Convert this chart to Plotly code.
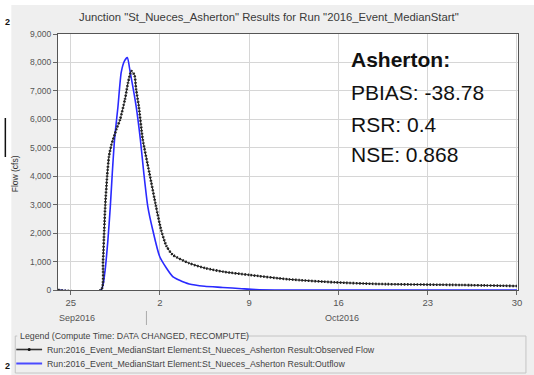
import plotly.graph_objects as go

# ---------------- data ----------------
obs_time = [
    "2016-09-24 00:00", "2016-09-27 09:00", "2016-09-27 12:45", "2016-09-27 15:00",
    "2016-09-27 17:00", "2016-09-27 20:30", "2016-09-28 00:00", "2016-09-28 04:30",
    "2016-09-28 14:00", "2016-09-28 21:00", "2016-09-29 06:00", "2016-09-29 12:00",
    "2016-09-29 18:00", "2016-09-30 00:00", "2016-09-30 03:00", "2016-09-30 08:00",
    "2016-09-30 15:30", "2016-10-01 04:00", "2016-10-01 16:30", "2016-10-02 02:00",
    "2016-10-02 12:00", "2016-10-03 00:00", "2016-10-04 07:00", "2016-10-05 14:00",
    "2016-10-07 00:00", "2016-10-09 00:00", "2016-10-12 02:00", "2016-10-15 17:00",
    "2016-10-19 02:00", "2016-10-25 14:00", "2016-10-30 00:00",
]
obs_flow = [
    0, 0, 1000, 2100,
    3000, 4000, 4700, 5100,
    5650, 6000, 6700, 7300,
    7700, 7550, 7060, 6470,
    5300, 4120, 2940, 2120,
    1550, 1235, 940, 765,
    640, 530, 376, 270,
    212, 176, 140,
]

sim_time = [
    "2016-09-24 00:00", "2016-09-27 09:00", "2016-09-27 16:00", "2016-09-27 22:00",
    "2016-09-28 02:30", "2016-09-28 06:15", "2016-09-28 10:30", "2016-09-28 17:00",
    "2016-09-28 23:00", "2016-09-29 05:00", "2016-09-29 10:30", "2016-09-29 16:00",
    "2016-09-30 03:00", "2016-09-30 11:00", "2016-09-30 17:30", "2016-10-01 01:00",
    "2016-10-01 10:30", "2016-10-02 00:00", "2016-10-03 00:00", "2016-10-03 12:00",
    "2016-10-04 07:00", "2016-10-05 12:00", "2016-10-06 22:00", "2016-10-08 10:00",
    "2016-10-09 12:00", "2016-10-11 00:00", "2016-10-30 00:00",
]
sim_flow = [
    0, 0, 590, 1765,
    2940, 4120, 5300, 6470,
    7650, 8050, 8170, 7650,
    6470, 5300, 4120, 2940,
    2100, 1150, 470, 350,
    210, 130, 90, 45,
    15, 0, 0,
]

series_names = [
    "Run:2016_Event_MedianStart Element:St_Nueces_Asherton Result:Observed Flow",
    "Run:2016_Event_MedianStart Element:St_Nueces_Asherton Result:Outflow",
]
tick_vals = ["2016-09-25", "2016-10-02", "2016-10-09", "2016-10-16", "2016-10-23", "2016-10-30"]
tick_text = ["25", "2", "9", "16", "23", "30"]
month_labels = ["Sep2016", "Oct2016"]
title_text = 'Junction "St_Nueces_Asherton" Results for Run "2016_Event_MedianStart"'
stats_lines = ["<b>Asherton:</b>", "PBIAS: -38.78", "RSR: 0.4", "NSE: 0.868"]
legend_title = "Legend (Compute Time: DATA CHANGED, RECOMPUTE)"

# ---------------- geometry helpers ----------------
W, H = 534, 375
L, R, T, B = 58, 521, 34, 290


def px(x):
    return (x - L) / (R - L)


def py(y):
    return (B - y) / (B - T)


FONT = "Liberation Sans, Arial, sans-serif"

fig = go.Figure()
fig.add_trace(go.Scatter(
    x=sim_time, y=sim_flow, mode="lines", name=series_names[1],
    line=dict(color="#2a2aff", width=1.6, shape="spline", smoothing=0.6),
    showlegend=False,
))
fig.add_trace(go.Scatter(
    x=obs_time, y=obs_flow, mode="lines", name=series_names[0],
    line=dict(color="#111111", width=1.0, shape="spline", smoothing=0.6),
    showlegend=False,
))
fig.add_trace(go.Scatter(
    x=obs_time, y=obs_flow, mode="lines", name=series_names[0],
    line=dict(color="#222222", width=2.6, dash="1.5px,1.7px", shape="spline", smoothing=0.6),
    showlegend=False,
))

shapes = []
annotations = []

# white strips at left/top of the screenshot
shapes.append(dict(type="rect", xref="paper", yref="paper", x0=px(-5), x1=px(11), y0=py(380), y1=py(-5),
                   fillcolor="white", line=dict(width=0), layer="below"))
shapes.append(dict(type="rect", xref="paper", yref="paper", x0=px(-5), x1=px(540), y0=py(5), y1=py(-5),
                   fillcolor="white", line=dict(width=0), layer="below"))
# stray artifact bar
shapes.append(dict(type="line", xref="paper", yref="paper", x0=px(5), x1=px(5), y0=py(118), y1=py(157),
                   line=dict(color="#111111", width=1.5)))
for yy in (22, 366):
    annotations.append(dict(xref="paper", yref="paper", x=px(7), y=py(yy), text="<b>2</b>", showarrow=False,
                            font=dict(family=FONT, size=9, color="#111"), xanchor="center", yanchor="middle"))

# title
annotations.append(dict(xref="paper", yref="paper", x=px(270), y=py(17), text=title_text, showarrow=False,
                        font=dict(family=FONT, size=11.3, color="#3a3a3a"), xanchor="center", yanchor="middle"))
# y-axis title
annotations.append(dict(xref="paper", yref="paper", x=px(15), y=py(174), text="Flow (cfs)", showarrow=False,
                        textangle=-90, font=dict(family=FONT, size=8.5, color="#333"),
                        xanchor="center", yanchor="middle"))
# month labels + separator
annotations.append(dict(xref="paper", yref="paper", x=px(77), y=py(318), text=month_labels[0], showarrow=False,
                        font=dict(family=FONT, size=9, color="#555"), xanchor="center", yanchor="middle"))
annotations.append(dict(xref="paper", yref="paper", x=px(344), y=py(318), text=month_labels[1], showarrow=False,
                        font=dict(family=FONT, size=9, color="#555"), xanchor="center", yanchor="middle"))
shapes.append(dict(type="line", xref="paper", yref="paper", x0=px(147), x1=px(147), y0=py(311), y1=py(325),
                   line=dict(color="#aaaaaa", width=1)))

# stats text
for txt, yy in zip(stats_lines, [59, 92, 124, 154]):
    annotations.append(dict(xref="paper", yref="paper", x=px(351), y=py(yy), text=txt, showarrow=False,
                            font=dict(family=FONT, size=21, color="#111"), xanchor="left", yanchor="middle"))

# legend group box
box_col = "#c4c4c4"
lt_end = 246
shapes += [
    dict(type="line", xref="paper", yref="paper", x0=px(15), x1=px(17), y0=py(336), y1=py(336), line=dict(color=box_col, width=1)),
    dict(type="line", xref="paper", yref="paper", x0=px(lt_end), x1=px(529), y0=py(336), y1=py(336), line=dict(color=box_col, width=1)),
    dict(type="line", xref="paper", yref="paper", x0=px(15), x1=px(15), y0=py(336), y1=py(373), line=dict(color=box_col, width=1)),
    dict(type="line", xref="paper", yref="paper", x0=px(529), x1=px(529), y0=py(336), y1=py(373), line=dict(color=box_col, width=1)),
    dict(type="line", xref="paper", yref="paper", x0=px(15), x1=px(529), y0=py(373), y1=py(373), line=dict(color=box_col, width=1)),
]
annotations.append(dict(xref="paper", yref="paper", x=px(18), y=py(336), text=legend_title, showarrow=False,
                        font=dict(family=FONT, size=8.8, color="#444"), xanchor="left", yanchor="middle"))
# legend entries
shapes.append(dict(type="line", xref="paper", yref="paper", x0=px(16), x1=px(42), y0=py(349.5), y1=py(349.5),
                   line=dict(color="#333", width=1.6)))
shapes.append(dict(type="circle", xref="paper", yref="paper", x0=px(27.5), x1=px(30.5), y0=py(351), y1=py(348),
                   fillcolor="#111", line=dict(width=0)))
shapes.append(dict(type="line", xref="paper", yref="paper", x0=px(16), x1=px(42), y0=py(363.5), y1=py(363.5),
                   line=dict(color="#4a4aff", width=2)))
for name, yy in zip(series_names, [349.5, 364]):
    annotations.append(dict(xref="paper", yref="paper", x=px(45), y=py(yy), text=name, showarrow=False,
                            font=dict(family=FONT, size=8.8, color="#444"), xanchor="left", yanchor="middle"))

fig.update_layout(
    width=W, height=H,
    margin=dict(l=L, r=W - R, t=T, b=H - B, pad=0),
    paper_bgcolor="#efefef", plot_bgcolor="white",
    showlegend=False,
    shapes=shapes, annotations=annotations,
    xaxis=dict(
        type="date", range=["2016-09-24", "2016-10-30 02:00"],
        tickvals=tick_vals, ticktext=tick_text,
        ticks="outside", ticklen=4, tickcolor="#666",
        showgrid=True, gridcolor="#d6d6d6", gridwidth=1,
        showline=True, linecolor="#555", linewidth=1, mirror=True,
        tickfont=dict(family=FONT, size=9.5, color="#555"),
        zeroline=False,
    ),
    yaxis=dict(
        range=[0, 9000], dtick=1000, tickformat=",",
        ticks="outside", ticklen=4, tickcolor="#666",
        showgrid=True, gridcolor="#d6d6d6", gridwidth=1,
        showline=True, linecolor="#555", linewidth=1, mirror=True,
        tickfont=dict(family=FONT, size=8.5, color="#555"),
        zeroline=False,
    ),
)

fig.write_html(
    "out.html",
    config={"displayModeBar": False},
    post_script="document.body.style.margin='0';document.body.style.padding='0';document.body.style.overflow='hidden';",
)
